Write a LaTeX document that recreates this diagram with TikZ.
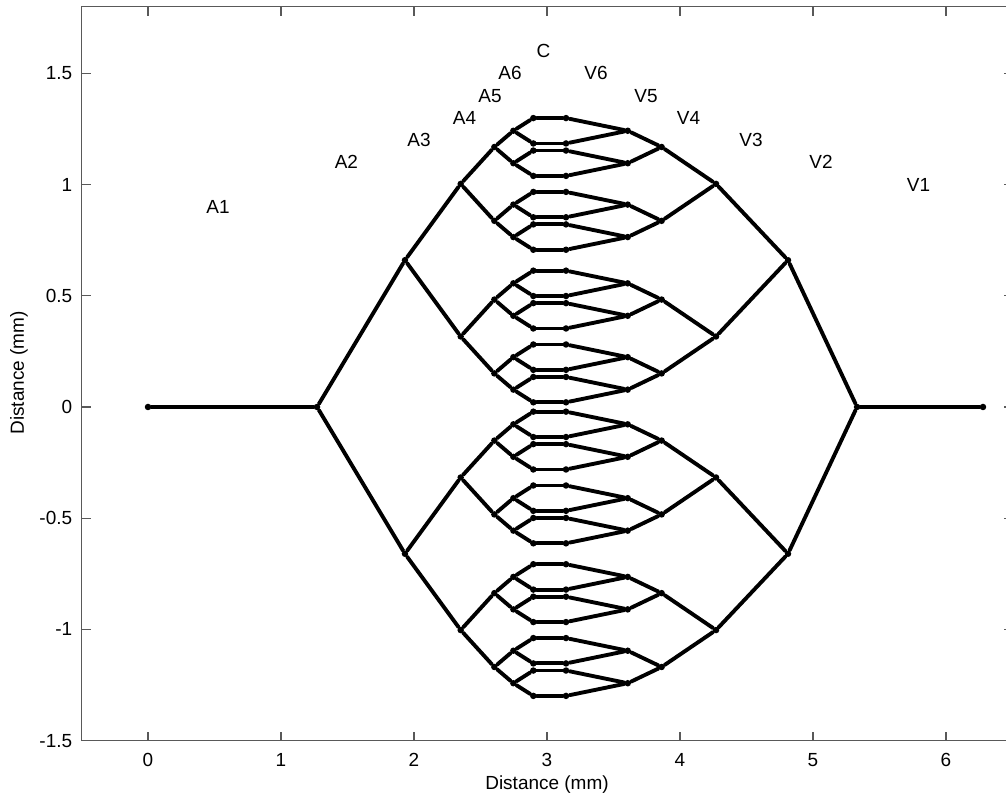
\documentclass[tikz,border=0pt]{standalone}
\usepackage{fontspec}
\setmainfont{Liberation Sans}
\usetikzlibrary{calc}

\begin{document}
\begin{tikzpicture}[
    x=2.66cm,y=4.448cm,
    vessel/.style={line width=2.2pt,line cap=round,line join=round},
    dot/.style={circle,fill,inner sep=0pt,minimum size=3.7pt},
    lbl/.style={font=\fontsize{10.8}{12}\selectfont,inner sep=0pt},
    axisline/.style={black!65,line width=0.6pt}
  ]
  \useasboundingbox (-1.1128,-1.7806) rectangle (6.4511,1.83);
  % axes box and ticks
  \draw[axisline] (-0.5,-1.5) rectangle (6.5,1.8);
  \foreach \v in {0,...,6} {
    \draw[axisline] (\v,-1.5) -- ++(0,0.0405);
    \draw[axisline] (\v,1.8) -- ++(0,-0.0405);
    \node[lbl] (xtick\v) at (\v,-1.5854) {\v};
  }
  \foreach \v [count=\k] in {-1.5,-1,-0.5,0,0.5,1,1.5} {
    \draw[axisline] (-0.5,\v) -- ++(0.0677,0);
    \draw[axisline] (6.5,\v) -- ++(-0.0677,0);
    \node[lbl,anchor=east] (ytick\k) at (-0.5677,\v) {\v};
  }
  \node[lbl] (xlabel) at (3,-1.70) {Distance (mm)};
  \node[lbl,rotate=90] (ylabel) at (-0.97,0.153) {Distance (mm)};

  % network
  \node[dot] (ain) at (0,0) {};
  \node[dot] (a0-0) at (1.271,0) {};
  \node[dot] (v0-0) at (5.331,0) {};
  \node[dot] (vout) at (6.278,0) {};
  \draw[vessel] (ain) -- (a0-0);
  \draw[vessel] (v0-0) -- (vout);
  \foreach \lev/\xa/\xv/\dy [remember=\lev as \up (initially 0)] in
      {1/1.932/4.812/0.66, 2/2.351/4.271/0.343, 3/2.604/3.862/0.166,
       4/2.747/3.607/0.073, 5/2.897/3.143/0.057} {
    \pgfmathtruncatemacro\nmax{2^\lev-1}
    \foreach \j in {0,...,\nmax} {
      \pgfmathtruncatemacro\pj{\j/2}
      \pgfmathsetmacro\s{1-2*mod(\j,2)}
      \path let \p1=(a\up-\pj) in
        (\xa,0) ++(0pt,\y1) ++(0,\s*\dy) node[dot] (a\lev-\j) {}
        (\xv,0) ++(0pt,\y1) ++(0,\s*\dy) node[dot] (v\lev-\j) {};
      \draw[vessel] (a\up-\pj) -- (a\lev-\j);
      \draw[vessel] (v\lev-\j) -- (v\up-\pj);
    }
  }
  \foreach \j in {0,...,31}
    \draw[vessel] (a5-\j) -- (v5-\j);
  % labels
  \foreach \t/\x/\y in {A1/0.526/0.90, A2/1.492/1.10, A3/2.038/1.20,
      A4/2.380/1.30, A5/2.571/1.40, A6/2.722/1.50, C/2.974/1.60,
      V6/3.368/1.50, V5/3.744/1.40, V4/4.064/1.30, V3/4.534/1.20,
      V2/5.060/1.10, V1/5.793/1.00}
    \node[lbl] (lbl\t) at (\x,\y) {\t};
\end{tikzpicture}
\end{document}
